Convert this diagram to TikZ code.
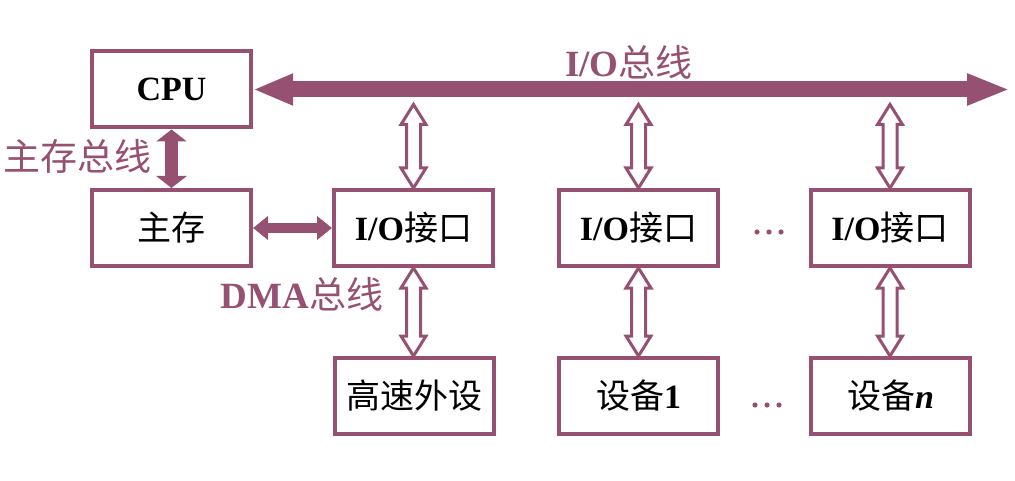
\documentclass[tikz,border=0pt]{standalone}
\usepackage{fontspec}
\setmainfont{Liberation Serif}
\newfontfamily\cjk{Noto Sans CJK SC}
\usetikzlibrary{arrows.meta,calc}
\definecolor{pur}{RGB}{150,80,114}
\newcommand\hollowarrow[2]{%
  \draw[hollowline] let \p1=(#1), \p2=(#2) in
  (\x1,\y1) -- (\x1+12.5pt,\y1-20pt) -- (\x1+7pt,\y1-20pt) -- (\x1+7pt,\y2+20pt)
  -- (\x1+12.5pt,\y2+20pt) -- (\x1,\y2) -- (\x1-12.5pt,\y2+20pt) -- (\x1-7pt,\y2+20pt)
  -- (\x1-7pt,\y1-20pt) -- (\x1-12.5pt,\y1-20pt) -- cycle;}
\begin{document}
\begin{tikzpicture}[x=1pt,y=-1pt,
  box/.style={draw=pur, line width=4pt, minimum width=159pt, minimum height=76pt,
    inner sep=0pt, font=\fontsize{34}{40}\selectfont},
  lbl/.style={text=pur, inner sep=0pt, font=\fontsize{37}{44}\selectfont},
  hollowline/.style={draw=pur, fill=white, line width=3pt, line join=miter},
  busline/.style={draw=pur, line width=16pt, {Triangle[length=40pt,width=29pt]}-{Triangle[length=43pt,width=29pt]}},
  mainbus/.style={draw=pur, line width=13pt, {Triangle[length=12pt,width=30pt]}-{Triangle[length=12pt,width=30pt]}},
  dmabus/.style={draw=pur, line width=10pt, {Triangle[length=15pt,width=23pt]}-{Triangle[length=15pt,width=23pt]}},
  dot/.style={fill=pur}]
\useasboundingbox (0,0) rectangle (1015,481);

% boxes
\node[box] (cpu) at (171.5,89.5) {\bfseries CPU};
\node[box] (mm)  at (171.5,228) {\cjk 主存};
\node[box] (io1) at (413.5,228) {\bfseries I/O{\cjk\mdseries 接口}};
\node[box] (io2) at (638.5,228) {\bfseries I/O{\cjk\mdseries 接口}};
\node[box] (io3) at (890,228) {\bfseries I/O{\cjk\mdseries 接口}};
\node[box] (hs)  at (414,396) {\cjk 高速外设};
\node[box] (d1)  at (638.5,396) {{\cjk 设备}\bfseries 1};
\node[box] (dn)  at (890.5,396) {{\cjk 设备}\bfseries\itshape n};

% I/O bus
\coordinate (busend) at (1010,89.5);
\draw[busline] (cpu.east) -- (busend);
\node[lbl] (buslbl) at (629,62) {\bfseries I/O{\cjk\mdseries 总线}};

% main memory bus
\draw[mainbus] (cpu.south) -- (mm.north);
\node[lbl] (mmlbl) at (78,156) {\cjk 主存总线};

% DMA bus
\draw[dmabus] (mm.east) -- (io1.west);
\node[lbl] (dmalbl) at (302,294) {\bfseries DMA{\cjk\mdseries 总线}};

% hollow arrows from bus to interfaces
\coordinate (ta) at ($(io1.north |- busend)+(0,15)$);
\coordinate (tb) at ($(io2.north |- busend)+(0,15)$);
\coordinate (tc) at ($(io3.north |- busend)+(0,15)$);
\hollowarrow{ta}{io1.north}
\hollowarrow{tb}{io2.north}
\hollowarrow{tc}{io3.north}
\hollowarrow{io1.south}{hs.north}
\hollowarrow{io2.south}{d1.north}
\hollowarrow{io3.south}{dn.north}

% dots
\foreach \xx in {757,769,781}{
  \fill[dot] (\xx,232) circle (2.6pt);
}
\foreach \xx in {755,767,779}{
  \fill[dot] (\xx,405) circle (2.6pt);
}
\end{tikzpicture}
\end{document}
